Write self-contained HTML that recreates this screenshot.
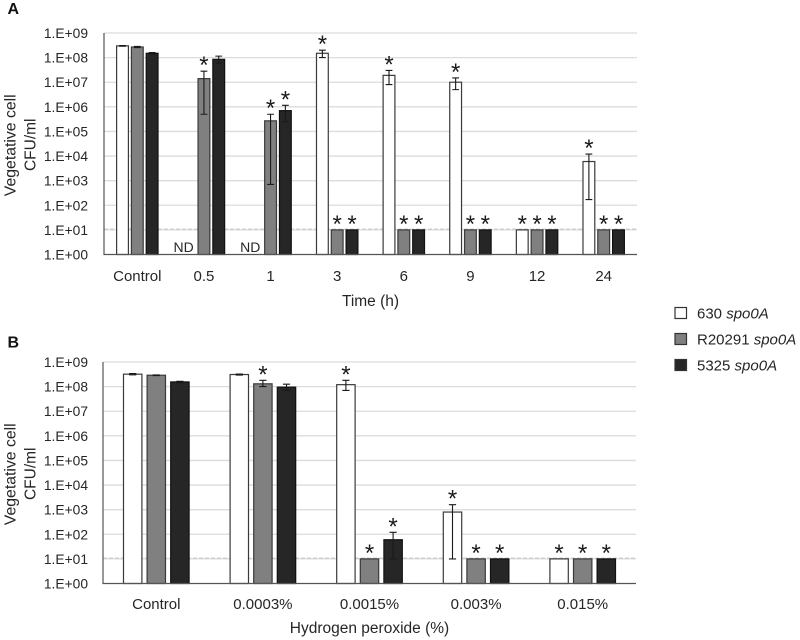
<!DOCTYPE html>
<html lang="en">
<head>
<meta charset="utf-8">
<title>Vegetative cell survival</title>
<style>
html,body{margin:0;padding:0;background:#fff;}
svg{display:block;font-family:"Liberation Sans",sans-serif;fill:#262626;filter:blur(0.3px);}
</style>
</head>
<body>
<svg id="fig" width="800" height="640" viewBox="0 0 800 640" xmlns="http://www.w3.org/2000/svg"></svg>
<script>
const decadeLabels = ['1.E+00','1.E+01','1.E+02','1.E+03','1.E+04','1.E+05','1.E+06','1.E+07','1.E+08','1.E+09'];
const seriesNames = ['630 spo0A','R20291 spo0A','5325 spo0A'];

const timeCategories = ['Control','0.5','1','3','6','9','12','24'];
const timeStrain630 = [3e8,null,null,1.5e8,1.9e7,1e7,10,6e3];
const timeStrain630Hi = [3.1e8,null,null,2e8,3e7,1.5e7,null,1.2e4];
const timeStrain630Lo = [2.9e8,null,null,1e8,8e6,5e6,null,1.7e2];
const timeStrain630Star = [0,0,0,1,1,1,1,1];
const timeStrainR = [2.7e8,1.4e7,2.7e5,10,10,10,10,10];
const timeStrainRHi = [2.85e8,2.8e7,5e5,null,null,null,null,null];
const timeStrainRLo = [2.55e8,5e5,7e2,null,null,null,null,null];
const timeStrainRStar = [0,1,1,1,1,1,1,1];
const timeStrain5325 = [1.5e8,8.5e7,7e5,10,10,10,10,10];
const timeStrain5325Hi = [1.6e8,1.15e8,1.15e6,null,null,null,null,null];
const timeStrain5325Lo = [1.4e8,6e7,2.5e5,null,null,null,null,null];
const timeStrain5325Star = [0,0,1,1,1,1,1,1];

const doseCategories = ['Control','0.0003%','0.0015%','0.003%','0.015%'];
const doseStrain630 = [3.2e8,3.1e8,1.2e8,800,10];
const doseStrain630Hi = [3.4e8,3.25e8,1.8e8,1.6e3,null];
const doseStrain630Lo = [3e8,2.95e8,7e7,10,null];
const doseStrain630Star = [0,0,1,1,1];
const doseStrainR = [2.9e8,1.3e8,10,10,10];
const doseStrainRHi = [3e8,1.8e8,null,null,null];
const doseStrainRLo = [2.8e8,1e8,null,null,null];
const doseStrainRStar = [0,1,1,1,1];
const doseStrain5325 = [1.55e8,9.5e7,60,10,10];
const doseStrain5325Hi = [1.65e8,1.25e8,120,null,null];
const doseStrain5325Lo = [1.45e8,7e7,10,null,null];
const doseStrain5325Star = [0,0,1,1,1];

const detectionLimit = 10.8;

const svg = document.getElementById('fig');
const NS = 'http://www.w3.org/2000/svg';
const fills = ['#ffffff','#808080','#262626'];
const strokes = ['#3a3a3a','#3a3a3a','#111111'];

function make(tag, attrs, text) {
  const el = document.createElementNS(NS, tag);
  for (const k in attrs) el.setAttribute(k, attrs[k]);
  if (text !== undefined) el.textContent = text;
  svg.appendChild(el);
  return el;
}

function drawPanel(p) {
  const yOf = v => p.bottom - Math.log10(v) * (p.bottom - p.top) / (decadeLabels.length - 1);
  const catW = (p.right - p.left) / p.categories.length;
  const xOf = (c, s) => p.left + catW * (c + 0.5) + (s - 1) * p.step;

  decadeLabels.forEach((label, i) => {
    const y = yOf(Math.pow(10, i));
    if (i > 0) {
      const g = make('line', {x1:p.left, x2:p.right, y1:y, y2:y, stroke:'#dcdcdc', 'stroke-width':1.3});
      
      
    }
    const t = make('text', {x:88, y:y + 5, 'text-anchor':'end', 'font-size':13.8}, label);
    
    
  });

  const limitY = yOf(detectionLimit);
  const dash = make('line', {x1:p.left, x2:p.right, y1:limitY, y2:limitY, stroke:'#c4c4c4', 'stroke-width':1, 'stroke-dasharray':'4 2'});
  
  

  p.categories.forEach((cat, c) => {
    const t = make('text', {x:p.left + catW * (c + 0.5), y:p.catY, 'text-anchor':'middle', 'font-size':15}, cat);
    
    

    p.values.forEach((vals, s) => {
      const v = vals[c];
      const x = xOf(c, s);
      if (v === null) {
        if (s === 0) {
          const nd = make('text', {x:x - 5.5, y:p.bottom - 2.5, 'text-anchor':'middle', 'font-size':14}, 'ND');
          
          
        }
        return;
      }
      const top = yOf(v);
      const bar = make('rect', {x:x - p.barW / 2, y:top, width:p.barW, height:p.bottom - top, fill:fills[s], stroke:strokes[s], 'stroke-width':1.2});
      
      

      let markTop = top;
      const hi = p.highs[s][c], lo = p.lows[s][c];
      if (hi !== null && lo !== null) {
        const yh = yOf(hi), yl = yOf(lo);
        markTop = yh;
        const stem = make('path', {
          d:'M' + x + ' ' + yh + 'V' + yl + 'M' + (x - p.cap) + ' ' + yh + 'H' + (x + p.cap) + 'M' + (x - p.cap) + ' ' + yl + 'H' + (x + p.cap),
          fill:'none', stroke:'#1a1a1a', 'stroke-width':1.1
        });
        
        
      }
      if (p.stars[s][c]) {
        const st = make('text', {x:x, y:markTop + 2, 'text-anchor':'middle', 'font-size':24, fill:'#1a1a1a'}, '*');
        
        
      }
    });
  });

  const axis = make('path', {d:'M' + p.left + ' ' + p.top + 'V' + p.bottom + 'H' + p.right, fill:'none', stroke:'#555555', 'stroke-width':1.2});
  
  

  const xt = make('text', {x:(p.left + p.right) / 2, y:p.titleY, 'text-anchor':'middle', 'font-size':15.5}, p.xTitle);
  
  

  const yc = (p.top + p.bottom) / 2;
  const y1 = make('text', {transform:'translate(15.5 ' + (yc + 1.5) + ') rotate(-90)', 'text-anchor':'middle', 'font-size':15.8}, 'Vegetative cell');
  
  
  const y2 = make('text', {transform:'translate(35.5 ' + (yc + 1) + ') rotate(-90)', 'text-anchor':'middle', 'font-size':15.5}, 'CFU/ml');
  
  

  const letter = make('text', {x:7.5, y:p.letterY, 'font-size':16, 'font-weight':'bold', fill:'#111'}, p.letter);
  
  
}

drawPanel({
  letter:'A', letterY:14, left:104, right:637, top:33, bottom:254.5, step:14.8, barW:11.8, cap:3.4,
  catY:281, titleY:306, xTitle:'Time (h)', categories:timeCategories,
  values:[timeStrain630, timeStrainR, timeStrain5325],
  highs:[timeStrain630Hi, timeStrainRHi, timeStrain5325Hi],
  lows:[timeStrain630Lo, timeStrainRLo, timeStrain5325Lo],
  stars:[timeStrain630Star, timeStrainRStar, timeStrain5325Star]
});
drawPanel({
  letter:'B', letterY:347.5, left:103, right:636, top:362, bottom:583.5, step:23.6, barW:18.4, cap:3.6,
  catY:609, titleY:633, xTitle:'Hydrogen peroxide (%)', categories:doseCategories,
  values:[doseStrain630, doseStrainR, doseStrain5325],
  highs:[doseStrain630Hi, doseStrainRHi, doseStrain5325Hi],
  lows:[doseStrain630Lo, doseStrainRLo, doseStrain5325Lo],
  stars:[doseStrain630Star, doseStrainRStar, doseStrain5325Star]
});

seriesNames.forEach((name, i) => {
  const y = 307.5 + i * 26;
  const box = make('rect', {x:675, y:y, width:11.5, height:11, fill:fills[i], stroke:'#333', 'stroke-width':1.2});
  
  
  const parts = name.split(' ');
  const t = make('text', {x:697, y:y + 11, 'font-size':15});
  
  
  const a = document.createElementNS(NS, 'tspan');
  a.textContent = parts[0] + ' ';
  t.appendChild(a);
  const b = document.createElementNS(NS, 'tspan');
  b.setAttribute('font-style', 'italic');
  b.textContent = parts[1];
  t.appendChild(b);
});
</script>
</body>
</html>
